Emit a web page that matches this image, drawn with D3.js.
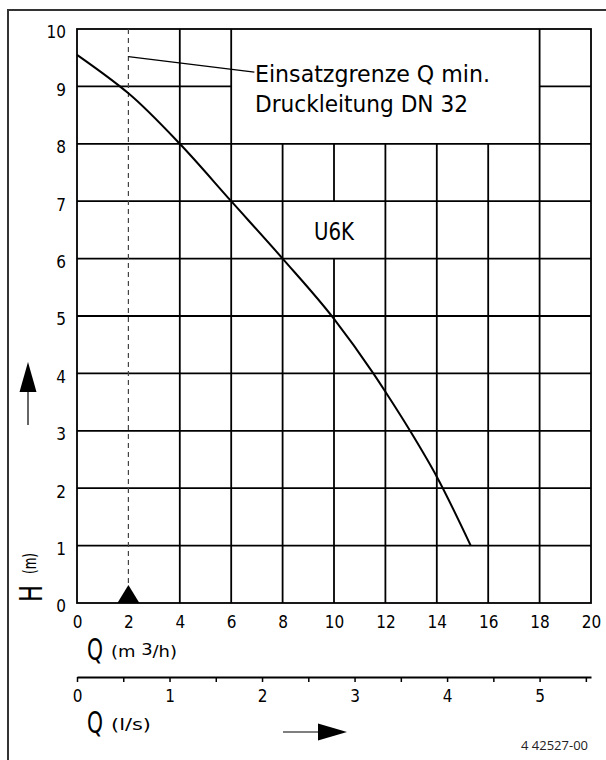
<!DOCTYPE html>
<html lang="de">
<head>
  <meta charset="UTF-8">
  <title>U6K Kennlinie</title>
  <script src="https://d3js.org/d3.v7.min.js"></script>
  <style>
    body { margin: 0; background: #fff; }
    svg { display: block; }
    .lab { font-family: "DejaVu Sans Condensed", "DejaVu Sans", sans-serif; font-stretch: condensed; fill: #000; }
  </style>
</head>
<body>
  <div id="chart"></div>

  <script>
    // curve: Q in m3/h, H in m
    const curveQ = [0, 1.67, 2, 4, 6, 8, 10, 11.53, 12, 12.96, 14, 15.32];
    const curveH = [9.55, 9.0, 8.88, 8.0, 7.0, 6.0, 4.95, 4.0, 3.68, 3.0, 2.2, 1.0];

    const hTicks = [0, 1, 2, 3, 4, 5, 6, 7, 8, 9, 10];
    const qTicks = [0, 2, 4, 6, 8, 10, 12, 14, 16, 18, 20];
    const lpsTicks = [0, 1, 2, 3, 4, 5];
    const lpsMinor = [0.5, 1.5, 2.5, 3.5, 4.5, 5.5];

    const qMin = 2;                 // Einsatzgrenze Q min
    const leaderFrom = [2, 9.52];
    const leaderTo = [6.9, 9.25];

    // areas left free of grid lines (text boxes)
    const textBox = { q0: 6, q1: 18, h0: 8, h1: 10 };
    const nameBox = { q0: 8, q1: 12, h0: 6, h1: 7 };

    const noteLines = ["Einsatzgrenze Q min.", "Druckleitung DN 32"];
    const curveName = "U6K";
    const drawingNo = "4 42527-00";

    const W = 606, H = 760;
    const svg = d3.select("#chart").append("svg")
      .attr("width", W)
      .attr("height", H);

    svg.append("rect").attr("width", W).attr("height", H).attr("fill", "#fff");

    // outer frame (only top and left are visible)
    svg.append("path")
      .attr("d", "M8,760V10H606")
      .attr("fill", "none")
      .attr("stroke", "#333")
      .attr("stroke-width", 2);

    const x = d3.scaleLinear().domain([0, 20]).range([77, 591]);
    const y = d3.scaleLinear().domain([0, 10]).range([603, 29]);
    const xl = d3.scaleLinear().domain([0, 20 / 3.6]).range([77, 591]);

    // cut a line into pieces around the boxes
    function pieces(pos, from, to, boxes, horiz) {
      let segs = [[from, to]];
      boxes.forEach(b => {
        const inside = horiz ? (pos > b.h0 && pos < b.h1) : (pos > b.q0 && pos < b.q1);
        if (!inside) return;
        const g0 = horiz ? b.q0 : b.h0, g1 = horiz ? b.q1 : b.h1;
        const next = [];
        segs.forEach(([a, c]) => {
          if (g1 <= a || g0 >= c) { next.push([a, c]); return; }
          if (g0 > a) next.push([a, g0]);
          if (g1 < c) next.push([g1, c]);
        });
        segs = next;
      });
      return segs;
    }

    const grid = svg.append("g")
      .attr("stroke", "#000")
      .attr("stroke-width", 1.8)
      .attr("fill", "none");

    hTicks.slice(1, -1).forEach(h => {
      pieces(h, 0, 20, [textBox, nameBox], true).forEach(([a, b]) => {
        grid.append("line")
          .attr("x1", x(a)).attr("x2", x(b))
          .attr("y1", y(h)).attr("y2", y(h));
      });
    });

    qTicks.slice(1, -1).filter(q => q !== qMin).forEach(q => {
      pieces(q, 0, 10, [textBox, nameBox], false).forEach(([a, b]) => {
        grid.append("line")
          .attr("x1", x(q)).attr("x2", x(q))
          .attr("y1", y(a)).attr("y2", y(b));
      });
    });

    grid.append("rect")
      .attr("x", x(0)).attr("y", y(10))
      .attr("width", x(20) - x(0))
      .attr("height", y(0) - y(10));

    // Q min dashed line + marker
    svg.append("line")
      .attr("x1", x(qMin)).attr("x2", x(qMin))
      .attr("y1", y(10)).attr("y2", y(0))
      .attr("stroke", "#444")
      .attr("stroke-width", 1.2)
      .attr("stroke-dasharray", "5,4");

    svg.append("path")
      .attr("d", `M${x(qMin)},${y(0) - 18}L${x(qMin) - 11},${y(0)}L${x(qMin) + 11},${y(0)}Z`)
      .attr("fill", "#000");

    svg.append("line")
      .attr("x1", x(leaderFrom[0])).attr("y1", y(leaderFrom[1]))
      .attr("x2", x(leaderTo[0])).attr("y2", y(leaderTo[1]))
      .attr("stroke", "#000")
      .attr("stroke-width", 1.3);

    // pump curve
    const line = d3.line()
      .x((d, i) => x(curveQ[i]))
      .y(d => y(d))
      .curve(d3.curveMonotoneX);

    svg.append("path")
      .datum(curveH)
      .attr("d", line)
      .attr("fill", "none")
      .attr("stroke", "#000")
      .attr("stroke-width", 2);

    // texts inside the grid
    const noteLen = [235, 213];
    noteLines.forEach((t, i) => {
      svg.append("text")
        .attr("class", "lab")
        .attr("x", 255)
        .attr("y", 82 + i * 30)
        .attr("font-size", 23)
        .attr("textLength", noteLen[i])
        .attr("lengthAdjust", "spacingAndGlyphs")
        .text(t);
    });

    svg.append("text")
      .attr("class", "lab")
      .attr("x", x(10) - 20)
      .attr("y", 240)
      .attr("font-size", 25)
      .attr("textLength", 40)
      .attr("lengthAdjust", "spacingAndGlyphs")
      .text(curveName);

    // H axis labels
    const yAxis = svg.append("g")
      .attr("transform", `translate(${x(0)},0)`)
      .call(d3.axisLeft(y).tickValues(hTicks).tickSize(0).tickPadding(11));
    yAxis.select(".domain").remove();
    yAxis.selectAll("text")
      .attr("class", "lab")
      .attr("font-size", 17)
      .attr("dy", "0.52em");

    // Q (m3/h) labels
    const xAxis = svg.append("g")
      .attr("transform", `translate(0,${y(0)})`)
      .call(d3.axisBottom(x).tickValues(qTicks).tickSize(0).tickPadding(13));
    xAxis.select(".domain").remove();
    xAxis.selectAll("text").attr("class", "lab").attr("font-size", 17);

    // Q (l/s) axis
    const lAxis = svg.append("g")
      .attr("transform", "translate(0,677)")
      .call(d3.axisBottom(xl).tickValues(lpsTicks).tickFormat(d3.format("d"))
        .tickSize(5).tickSizeOuter(0).tickPadding(8));
    lAxis.select(".domain").attr("stroke-width", 1.8);
    lAxis.selectAll("line").attr("stroke-width", 1.5);
    lAxis.selectAll("text").attr("class", "lab").attr("font-size", 17);

    svg.append("g")
      .attr("transform", "translate(0,677)")
      .call(d3.axisBottom(xl).tickValues(lpsMinor).tickSize(5).tickFormat(""))
      .call(g => g.select(".domain").remove())
      .selectAll("line").attr("stroke-width", 1.5);

    // axis titles
    function qTitle(yb, unit, unitLen) {
      svg.append("text")
        .attr("class", "lab")
        .attr("x", 87).attr("y", yb)
        .attr("font-size", 30)
        .attr("textLength", 16)
        .attr("lengthAdjust", "spacingAndGlyphs")
        .text("Q");
      return svg.append("text")
        .attr("class", "lab")
        .attr("x", 111).attr("y", yb - 3)
        .attr("font-size", 16)
        .attr("textLength", unitLen)
        .attr("lengthAdjust", "spacingAndGlyphs")
        .text(unit);
    }
    const t1 = qTitle(660, "", 66);
    t1.append("tspan").text("(m ");
    t1.append("tspan").attr("dy", -2).text("3");
    t1.append("tspan").attr("dy", 2).text("/h)");
    qTitle(733, "(l/s)", 40);

    svg.append("text")
      .attr("class", "lab")
      .attr("transform", "translate(42,602) rotate(-90)")
      .attr("font-size", 32)
      .attr("textLength", 17)
      .attr("lengthAdjust", "spacingAndGlyphs")
      .text("H");
    svg.append("text")
      .attr("class", "lab")
      .attr("transform", "translate(36,574) rotate(-90)")
      .attr("font-size", 17)
      .attr("textLength", 21)
      .attr("lengthAdjust", "spacingAndGlyphs")
      .text("(m)");

    // direction arrows
    svg.append("line")
      .attr("x1", 28).attr("x2", 28).attr("y1", 425).attr("y2", 390)
      .attr("stroke", "#000").attr("stroke-width", 1.2);
    svg.append("path")
      .attr("d", "M28,362L19.5,392L36.5,392Z")
      .attr("fill", "#000");

    svg.append("line")
      .attr("x1", 283).attr("x2", 320).attr("y1", 732).attr("y2", 732)
      .attr("stroke", "#000").attr("stroke-width", 1.2);
    svg.append("path")
      .attr("d", "M347,732L318,723.5L318,740.5Z")
      .attr("fill", "#000");

    svg.append("text")
      .attr("x", 588).attr("y", 750)
      .attr("text-anchor", "end")
      .attr("font-family", "'Open Sans', 'Liberation Sans', sans-serif")
      .attr("font-size", 13)
      .attr("fill", "#222")
      .text(drawingNo);
  </script>
</body>
</html>
